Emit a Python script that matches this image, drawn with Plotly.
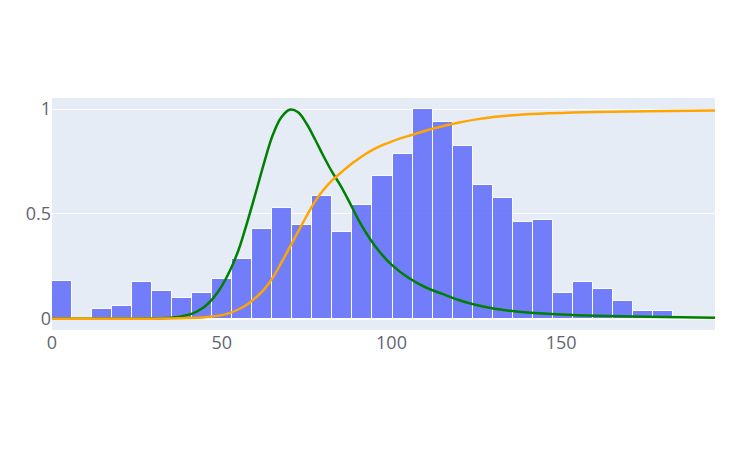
import plotly.graph_objects as go

# Histogram (normalized counts)
bin_start = 0.0
bin_size = 5.9
bar_heights = [0.179, 0.0, 0.044, 0.059, 0.173, 0.133, 0.098, 0.124, 0.187, 0.286,
               0.430, 0.527, 0.446, 0.584, 0.414, 0.543, 0.681, 0.786, 1.0, 0.938,
               0.825, 0.640, 0.576, 0.462, 0.471, 0.124, 0.173, 0.140, 0.084, 0.035,
               0.035]

# Green curve (density, scaled to max 1)
pdf_x = [0, 15, 30, 35, 40, 42.5, 45, 47.5, 50, 52.5, 55, 57.5, 60, 62.5, 65, 67.5,
         70, 72.5, 75, 77.5, 80, 82.5, 85, 87.5, 90, 92.5, 95, 97.5, 100, 105, 110,
         115, 120, 125, 130, 135, 140, 150, 160, 175, 195.3]
pdf_y = [0, 0, 0.001, 0.004, 0.018, 0.033, 0.058, 0.098, 0.155, 0.232, 0.33, 0.46,
         0.60, 0.745, 0.875, 0.96, 0.997, 0.985, 0.93, 0.855, 0.775, 0.70, 0.635,
         0.56, 0.48, 0.41, 0.35, 0.30, 0.258, 0.195, 0.15, 0.118, 0.088, 0.065,
         0.049, 0.038, 0.030, 0.020, 0.014, 0.009, 0.004]

# Orange curve (cumulative)
cdf_x = [0, 15, 30, 35, 40, 45, 50, 52.5, 55, 57.5, 60, 62.5, 65, 67.5, 70, 72.5,
         75, 77.5, 80, 82.5, 85, 87.5, 90, 92.5, 95, 97.5, 100, 105, 110, 115, 120,
         125, 130, 135, 140, 150, 160, 175, 195.3]
cdf_y = [0, 0, 0, 0.001, 0.003, 0.007, 0.017, 0.028, 0.045, 0.068, 0.10, 0.14,
         0.195, 0.265, 0.34, 0.415, 0.49, 0.56, 0.615, 0.66, 0.695, 0.73, 0.76,
         0.787, 0.81, 0.829, 0.845, 0.872, 0.897, 0.918, 0.936, 0.951, 0.962, 0.97,
         0.976, 0.982, 0.986, 0.99, 0.993]

x_ticks = [0, 50, 100, 150]
y_ticks = [0, 0.5, 1]

centers = [bin_start + bin_size * (i + 0.5) for i in range(len(bar_heights))]

fig = go.Figure()
fig.add_trace(go.Bar(x=centers, y=bar_heights, width=bin_size,
                     marker=dict(color="#636efa", line=dict(color="white", width=1)),
                     opacity=0.88))
fig.add_trace(go.Scatter(x=pdf_x, y=pdf_y, mode="lines", line_shape="spline",
                         line=dict(color="green", width=2.5, smoothing=1)))
fig.add_trace(go.Scatter(x=cdf_x, y=cdf_y, mode="lines", line_shape="spline",
                         line=dict(color="orange", width=2.5, smoothing=1)))

fig.update_layout(
    width=730, height=450,
    margin=dict(l=44, r=23, t=90, b=128),
    showlegend=False,
    bargap=0,
    font=dict(family="Open Sans", size=18, color="#5f6670"),
)
fig.update_xaxes(range=[0, 195.3], tickvals=x_ticks)
fig.update_yaxes(range=[-0.054, 1.053], tickvals=y_ticks)

fig.write_html("out.html")
